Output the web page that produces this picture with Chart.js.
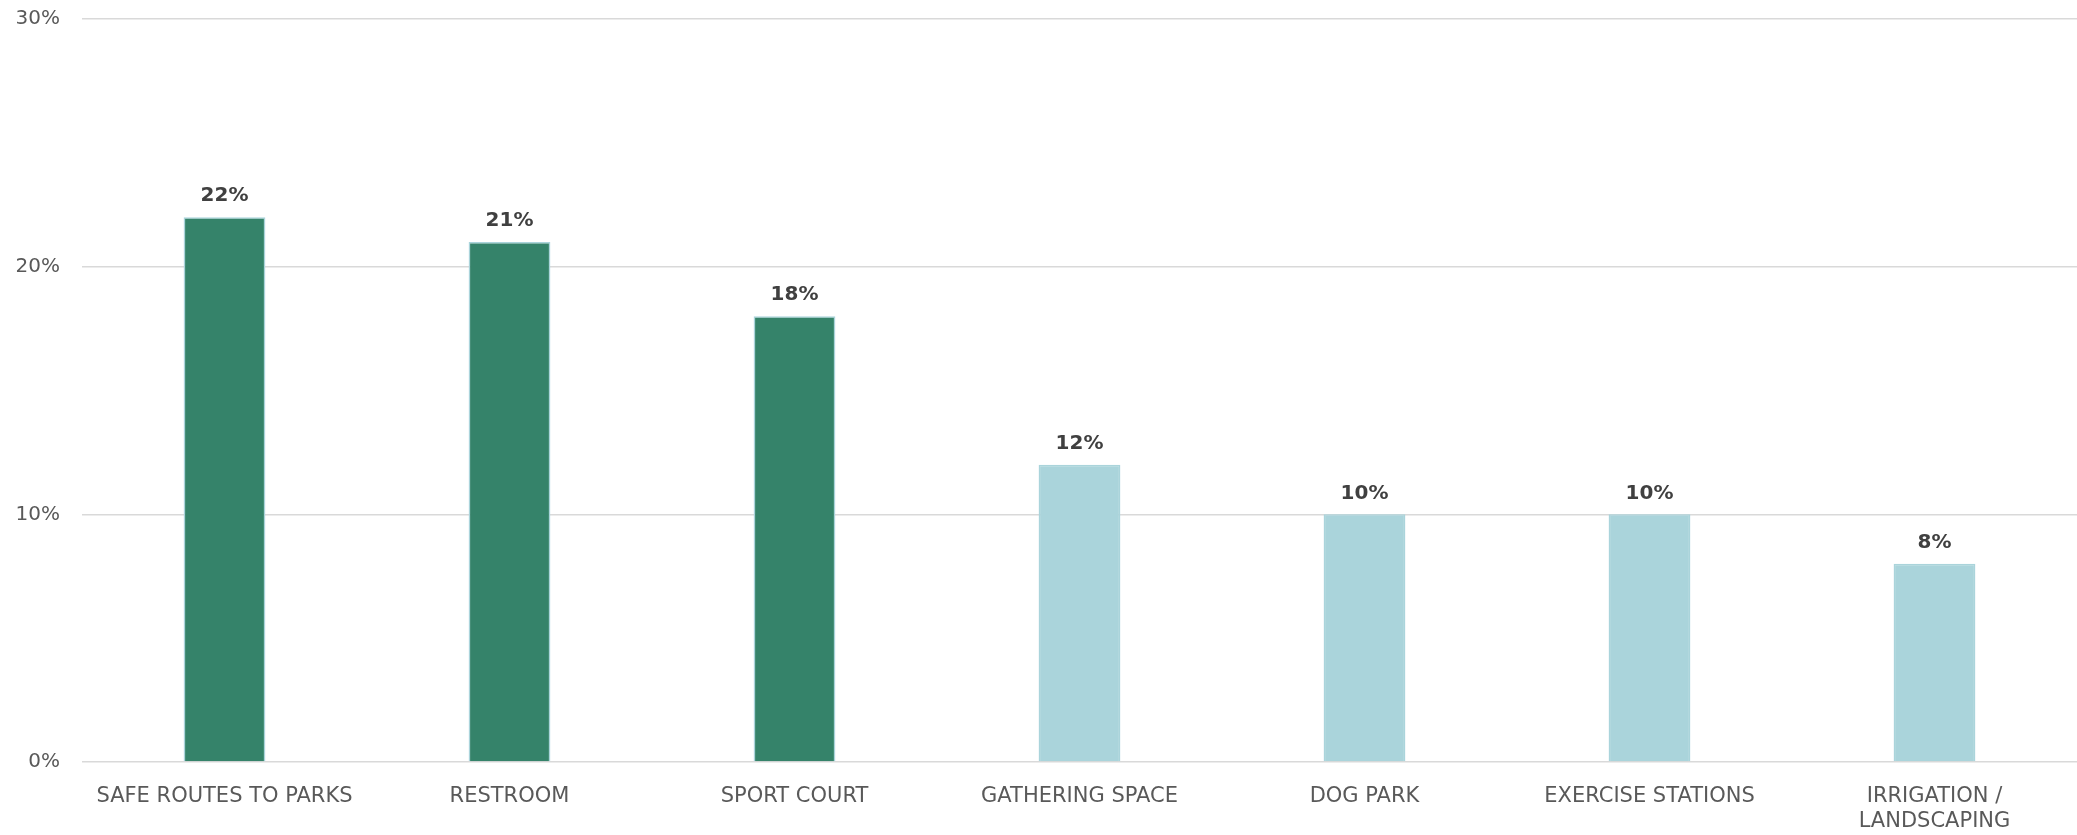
<!DOCTYPE html>
<html>
<head>
<meta charset="utf-8">
<script src="https://cdn.jsdelivr.net/npm/chart.js@4"></script>
<style>
  html, body { margin: 0; padding: 0; background: #fff; }
  #wrap { width: 2077px; height: 835px; }
</style>
</head>
<body>
<div id="wrap"><canvas id="parkChart" width="2077" height="835"></canvas></div>
<script>
// chart data
var categorias = ['SAFE ROUTES TO PARKS', 'RESTROOM', 'SPORT COURT', 'GATHERING SPACE', 'DOG PARK', 'EXERCISE STATIONS', ['IRRIGATION /', 'LANDSCAPING']];
var porcentajes = [22, 21, 18, 12, 10, 10, 8];
var yTicks = [0, 10, 20, 30];

var verde = '#35836a';
var celeste = '#aad4db';
var destacados = 3; // first bars drawn in green

var coloresBarras = porcentajes.map(function(v, i) {
    return i < destacados ? verde : celeste;
});

// value labels above bars
var etiquetasValor = {
    id: 'etiquetasValor',
    afterDatasetsDraw: function(chart) {
        var ctx = chart.ctx;
        var meta = chart.getDatasetMeta(0);
        ctx.save();
        ctx.font = 'bold 20px "DejaVu Sans"';
        ctx.fillStyle = '#404040';
        ctx.textAlign = 'center';
        ctx.textBaseline = 'bottom';
        meta.data.forEach(function(bar, i) {
            ctx.fillText(porcentajes[i] + '%', bar.x, bar.y - 11);
        });
        ctx.restore();
    }
};

var ctx = document.getElementById('parkChart').getContext('2d');
var chart = new Chart(ctx, {
    type: 'bar',
    data: {
        labels: categorias,
        datasets: [{
            data: porcentajes,
            backgroundColor: coloresBarras,
            borderColor: celeste,
            borderWidth: 1.5,
            barPercentage: 0.287,
            categoryPercentage: 1
        }]
    },
    options: {
        responsive: false,
        animation: false,
        layout: { padding: { top: 19, right: 0, left: 0, bottom: 0 } },
        plugins: {
            legend: { display: false },
            tooltip: { enabled: false }
        },
        scales: {
            x: {
                grid: { display: false },
                border: { display: false },
                ticks: {
                    color: '#595959',
                    font: { family: 'DejaVu Sans', size: 21 },
                    padding: 14,
                    maxRotation: 0,
                    autoSkip: false
                },
                afterFit: function(scale) { scale.height = 73; }
            },
            y: {
                min: 0,
                max: 30,
                afterBuildTicks: function(scale) {
                    scale.ticks = yTicks.map(function(v) { return { value: v }; });
                },
                grid: { color: '#d9d9d9', lineWidth: 1.5, drawTicks: false },
                border: { display: false },
                ticks: {
                    color: '#595959',
                    font: { family: 'DejaVu Sans', size: 20 },
                    padding: 22,
                    callback: function(v) { return v + '%'; }
                },
                afterFit: function(scale) {
                    scale.width = 82;
                    scale.paddingTop = 0;
                    scale.paddingBottom = 0;
                }
            }
        }
    },
    plugins: [etiquetasValor]
});
</script>
</body>
</html>
